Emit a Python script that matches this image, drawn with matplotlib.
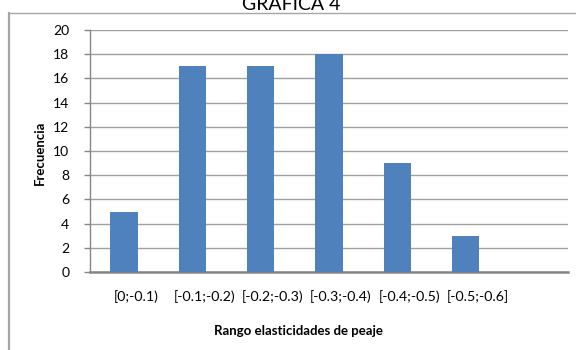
import matplotlib
matplotlib.use("Agg")
import matplotlib.pyplot as plt
import matplotlib.transforms as mtransforms
from matplotlib.lines import Line2D

# Frequency of toll-elasticity ranges
categorias = ["[0;-0.1)", "[-0.1;-0.2)", "[-0.2;-0.3)", "[-0.3;-0.4)",
              "[-0.4;-0.5)", "[-0.5;-0.6]"]
frecuencias = [5, 17, 17, 18, 9, 3]
y_ticks = list(range(0, 21, 2))

titulo = "GRAFICA 4"
etiqueta_x = "Rango elasticidades de peaje"
etiqueta_y = "Frecuencia"

plt.rcParams['font.family'] = ['Lato', 'DejaVu Sans']

W, H = 576, 350
fig = plt.figure(figsize=(W / 100, H / 100), dpi=100)
fig.patch.set_facecolor("white")

# chart-area frame (left and top edges visible)
frame_col = "#a6a6a6"
fig.add_artist(Line2D([8.5 / W, 8.5 / W], [0, 1 - 12.5 / H],
                      transform=fig.transFigure, color=frame_col, lw=1.6))
fig.add_artist(Line2D([8.5 / W, 1], [1 - 12.5 / H, 1 - 12.5 / H],
                      transform=fig.transFigure, color=frame_col, lw=1.0))

left, right, bottom, top = 90, 568, 272, 30
ax = fig.add_axes([left / W, 1 - bottom / H, (right - left) / W, (bottom - top) / H])

x = list(range(len(categorias)))
ax.bar(x, frecuencias, width=0.4, color="#4f81bd", zorder=3)

ax.set_xlim(-0.5, len(categorias) + 0.5)
ax.set_ylim(0, 20)
ax.set_yticks(y_ticks)
ax.set_xticks(x)
ax.set_xticklabels(categorias, fontsize=10.2)
ax.tick_params(axis="x", length=0, pad=13)
ax.tick_params(axis="y", length=4, width=1, color="#868686", labelsize=10, pad=11)

offset = mtransforms.ScaledTranslation(12 / 100, 0, fig.dpi_scale_trans)
for lbl in ax.get_xticklabels():
    lbl.set_transform(lbl.get_transform() + offset)

ax.grid(axis="y", color="#a0a0a0", lw=1.0, zorder=0)
for s in ["top", "right"]:
    ax.spines[s].set_visible(False)
ax.spines["left"].set_color("#868686")
ax.spines["left"].set_linewidth(1.0)
ax.spines["bottom"].set_color("#868686")
ax.spines["bottom"].set_linewidth(1.8)

fig.text(291 / W, 1 - 10 / H, titulo, ha="center", va="baseline", fontsize=14)
fig.text(298 / W, 1 - 331 / H, etiqueta_x, ha="center", va="center",
         fontsize=9.5, fontweight="bold")
fig.text(40 / W, 1 - 153 / H, etiqueta_y, ha="center", va="center",
         rotation=90, fontsize=9.5, fontweight="bold")

fig.savefig("out.png", dpi=100)
